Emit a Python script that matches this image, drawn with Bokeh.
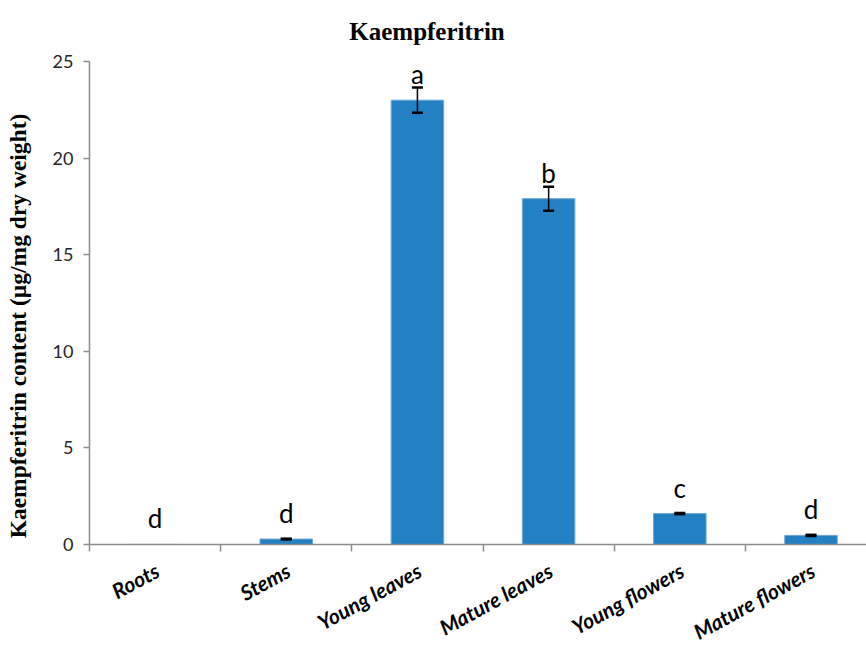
import math
from bokeh.plotting import figure
from bokeh.models import Range1d, FixedTicker, Whisker, ColumnDataSource, TeeHead, LabelSet, Label
from bokeh.embed import file_html
from bokeh.resources import INLINE
from bokeh.core.properties import value

categories = ["Roots", "Stems", "Young leaves", "Mature leaves", "Young flowers", "Mature flowers"]
means = [0.0, 0.28, 23.0, 17.9, 1.6, 0.47]
errors = [0.0, 0.02, 0.65, 0.62, 0.03, 0.03]
letters = ["d", "d", "a", "b", "c", "d"]
y_ticks = [0, 5, 10, 15, 20, 25]
title_text = "Kaempferitrin"
y_title = "Kaempferitrin content (µg/mg dry weight)"

n = len(categories)
xs = list(range(n))
upper = [m + e for m, e in zip(means, errors)]
lower = [m - e for m, e in zip(means, errors)]
src = ColumnDataSource(dict(x=xs, top=means, upper=upper, lower=lower,
                            letter=letters, cat=categories, zero=[0] * n))
err_src = ColumnDataSource(dict(x=[x for x, e in zip(xs, errors) if e > 0],
                                upper=[u for u, e in zip(upper, errors) if e > 0],
                                lower=[l for l, e in zip(lower, errors) if e > 0]))

# The whole canvas is the plot frame; axes are drawn at fixed locations inside it
p = figure(width=866, height=645, x_range=Range1d(-1.178, 5.423), y_range=Range1d(-5.23, 28.16),
           output_backend="svg", toolbar_location=None,
           min_border_left=0, min_border_right=0, min_border_top=0, min_border_bottom=0)
p.outline_line_color = None
p.grid.visible = False
p.background_fill_color = "white"
p.border_fill_color = "white"

p.vbar(x="x", top="top", bottom=0, width=0.4, source=src,
       fill_color="#2380c3", line_color="#6aa6d8", line_width=1)

w = Whisker(base="x", upper="upper", lower="lower", source=err_src, level="overlay",
            line_color="black", line_width=1.5,
            upper_head=TeeHead(size=11, line_color="black", line_width=2.5),
            lower_head=TeeHead(size=11, line_color="black", line_width=2.5))
p.add_layout(w)

letter_labels = LabelSet(x="x", y="top", text="letter", source=src, y_offset=16,
                         text_align="center", text_baseline="alphabetic",
                         text_font=value("Lato"), text_font_size="26px", text_color="black")
p.add_layout(letter_labels)

cat_labels = LabelSet(x="x", y="zero", text="cat", source=src, x_offset=-4, y_offset=-13,
                      angle=0.5, text_align="right", text_baseline="top",
                      text_font=value("Lato"), text_font_size="21px",
                      text_font_style="bold italic", text_color="black")
p.add_layout(cat_labels)

title = Label(x=(n - 1) / 2, y=y_ticks[-1], x_offset=-56, y_offset=30, text=title_text,
              text_align="center", text_baseline="alphabetic",
              text_font="Liberation Serif", text_font_size="25px",
              text_font_style="bold", text_color="black")
p.add_layout(title)

ylab = Label(x=-0.5, y=(y_ticks[0] + y_ticks[-1]) / 2, x_offset=-71, y_offset=-23,
             angle=math.pi / 2, text=y_title,
             text_align="center", text_baseline="middle",
             text_font="Liberation Serif", text_font_size="23.5px",
             text_font_style="bold", text_color="black")
p.add_layout(ylab)

# y axis at the left edge of the first category band
ya = p.yaxis[0]
ya.fixed_location = -0.5
ya.bounds = (y_ticks[0], y_ticks[-1])
ya.ticker = FixedTicker(ticks=y_ticks)
ya.major_label_text_font = "Lato"
ya.major_label_text_font_size = "18px"
ya.major_label_text_color = "#262626"
ya.major_label_standoff = 10
ya.axis_line_color = "#8c8c8c"
ya.axis_line_width = 1.5
ya.major_tick_line_color = "#8c8c8c"
ya.major_tick_line_width = 1.5
ya.major_tick_out = 6
ya.major_tick_in = 0
ya.minor_tick_line_color = None

# x axis at y = 0, ticks between categories
xa = p.xaxis[0]
xa.fixed_location = 0
xa.bounds = (-0.5, 5.423)
xa.ticker = FixedTicker(ticks=[], minor_ticks=[x - 0.5 for x in xs])
xa.axis_line_color = "#8c8c8c"
xa.axis_line_width = 1.5
xa.major_tick_line_color = None
xa.minor_tick_line_color = "#8c8c8c"
xa.minor_tick_line_width = 1.5
xa.minor_tick_out = 7
xa.minor_tick_in = 0

open("out.html", "w").write(file_html(p, INLINE))
